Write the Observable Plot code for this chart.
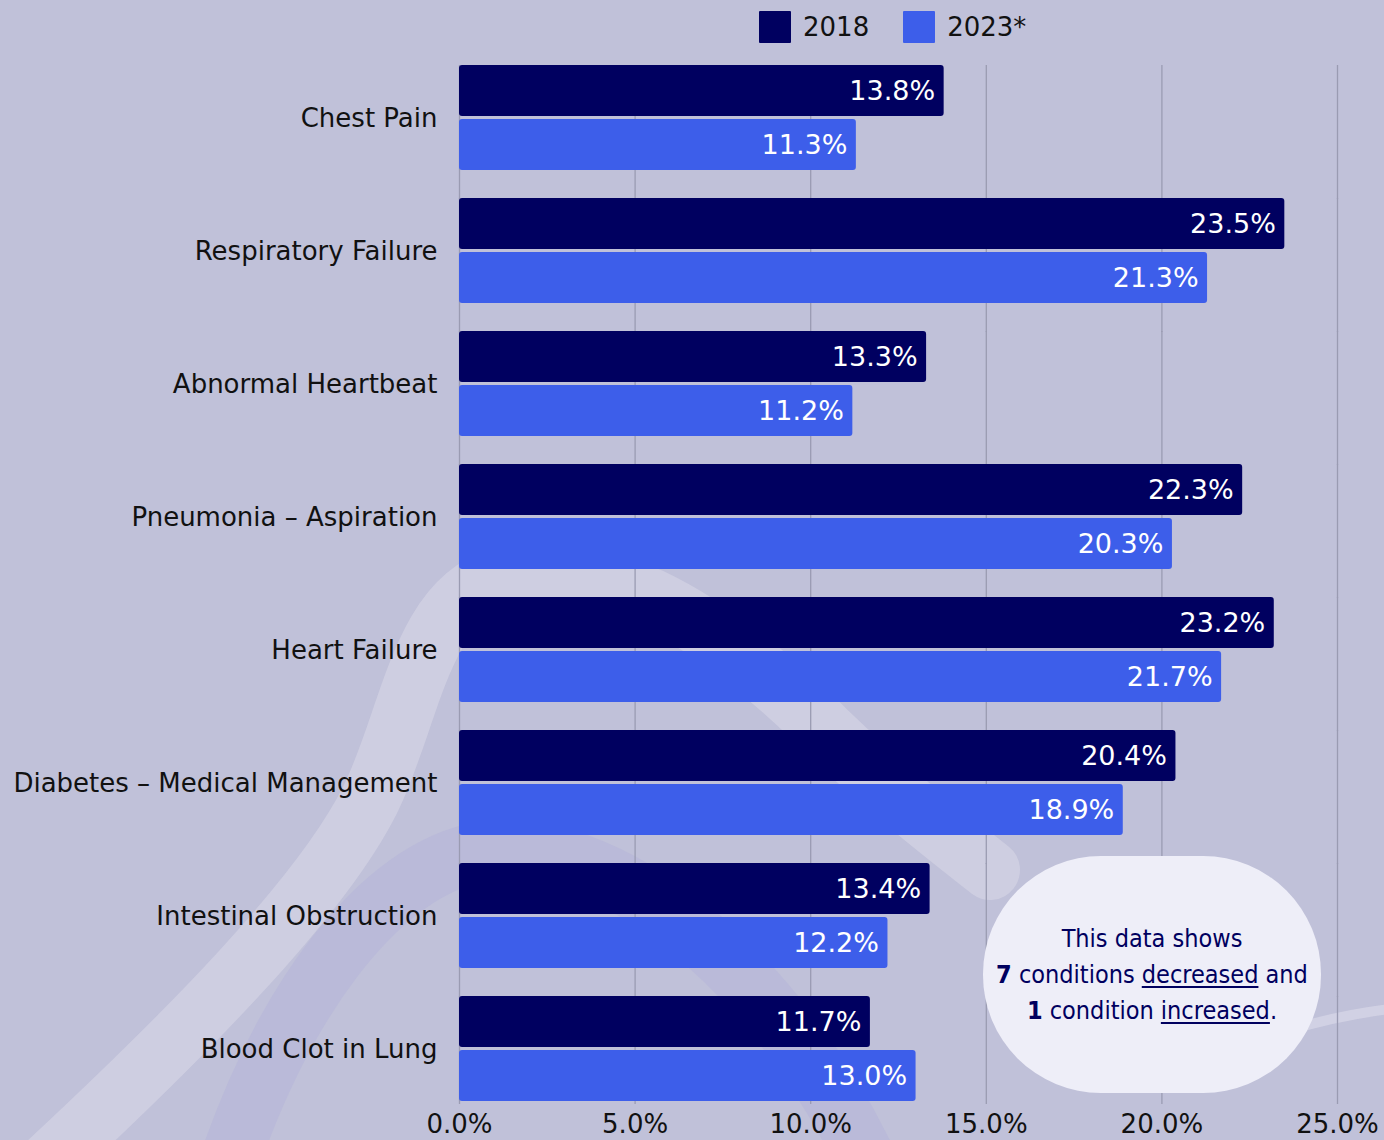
<!DOCTYPE html>
<html>
<head>
<meta charset="utf-8">
<script src="https://cdn.jsdelivr.net/npm/d3@7"></script>
<script src="https://cdn.jsdelivr.net/npm/@observablehq/plot@0.6"></script>
<style>
  html, body { margin: 0; padding: 0; background: #c0c1d9; }
  #wrap { position: relative; width: 1384px; height: 1140px; overflow: hidden; background: #c0c1d9; font-family: "DejaVu Sans", Verdana, sans-serif; }
  #bg { position: absolute; left: 0; top: 0; }
  #chart { position: absolute; left: 0; top: 0; }
  #legend { position: absolute; top: 11px; left: 759px; display: flex; align-items: center; font-size: 26px; color: #111; }
  .key { display: flex; align-items: center; margin-right: 34px; }
  .sw { width: 32px; height: 32px; margin-right: 12px; border-radius: 1px; }
  #callout { position: absolute; left: 983px; top: 856px; width: 338px; height: 237px; border-radius: 118px; background: #eeeef8;
    display: flex; align-items: center; justify-content: center; text-align: center; color: #00005f;
    font-family: "DejaVu Sans Condensed", "Liberation Sans", sans-serif; font-size: 25px; line-height: 36px; }
  #callout u { text-decoration-thickness: 2px; text-underline-offset: 3px; }
</style>
</head>
<body>
<div id="wrap">
  <svg id="bg" width="1384" height="1140">
    <g fill="none" stroke-linecap="round">
      <path d="M 220 1190 C 280 1000 380 870 480 852 C 600 832 780 960 880 1190" stroke="#b4b5d8" stroke-width="60" opacity="0.55"/>
      <path d="M 40 1170 C 180 1040 320 900 370 800 C 410 720 420 600 500 578 C 600 555 700 610 812 717 C 870 775 920 815 990 870" stroke="#d0d0e2" stroke-width="60" opacity="0.85"/>
      <path d="M 1290 1030 C 1330 1018 1360 1012 1400 1008" stroke="#d3d3e4" stroke-width="10" opacity="0.9"/>
    </g>
  </svg>
  <div id="chart"></div>
  <div id="legend"></div>
  <div id="callout"><div>This data shows<br><b>7</b> conditions <u>decreased</u> and<br><b>1</b> condition <u>increased</u>.</div></div>
</div>
<script>
const categories = [
  "Chest Pain",
  "Respiratory Failure",
  "Abnormal Heartbeat",
  "Pneumonia – Aspiration",
  "Heart Failure",
  "Diabetes – Medical Management",
  "Intestinal Obstruction",
  "Blood Clot in Lung"
];
const years = ["2018", "2023*"];
const values2018 = [13.8, 23.5, 13.3, 22.3, 23.2, 20.4, 13.4, 11.7];
const values2023 = [11.3, 21.3, 11.2, 20.3, 21.7, 18.9, 12.2, 13.0];
const xTicks = [0, 5, 10, 15, 20, 25];
const yearColors = ["#000060", "#3d5eea"];

const data = categories.flatMap((c, i) => [
  {category: c, year: years[0], value: values2018[i]},
  {category: c, year: years[1], value: values2023[i]}
]);
const pct = d => d.toFixed(1) + "%";

// grid rules per facet; all but the last facet extend down through the gap below them
const lastCat = categories[categories.length - 1];
const gridUpper = categories.filter(c => c !== lastCat).flatMap(c => xTicks.map(x => ({category: c, x})));
const gridLast = xTicks.map(x => ({category: lastCat, x}));

const chart = Plot.plot({
  width: 1384,
  height: 1140,
  marginLeft: 459,
  marginRight: 47,
  marginTop: 64,
  marginBottom: 37,
  style: {background: "transparent", fontFamily: "'DejaVu Sans', Verdana, sans-serif", color: "#111"},
  x: {domain: [0, 25]},
  y: {domain: years, paddingInner: 0.055, paddingOuter: 0, axis: null},
  fy: {domain: categories, paddingInner: 0.2026, paddingOuter: 0, label: null, axis: null},
  color: {domain: years, range: yearColors},
  marks: [
    Plot.ruleX(gridUpper, {x: "x", fy: "category", stroke: "#9a9bb2", strokeWidth: 1.3, insetBottom: -28}),
    Plot.ruleX(gridLast, {x: "x", fy: "category", stroke: "#9a9bb2", strokeWidth: 1.3, insetBottom: -2}),
    Plot.barX(data, {x: "value", y: "year", fy: "category", fill: "year", rx: 3}),
    Plot.text(data, {x: "value", y: "year", fy: "category", text: d => pct(d.value),
      textAnchor: "end", dx: -9, fill: "white", fontSize: 27}),
    Plot.axisX({ticks: xTicks, tickFormat: pct, tickSize: 0, tickPadding: 12, fontSize: 26, label: null}),
    Plot.axisFy({anchor: "left", tickSize: 0, tickPadding: 22, fontSize: 26, label: null})
  ]
});
document.getElementById("chart").appendChild(chart);

const legend = document.getElementById("legend");
years.forEach((y, i) => {
  const k = document.createElement("div");
  k.className = "key";
  k.innerHTML = `<span class="sw" style="background:${yearColors[i]}"></span><span>${y}</span>`;
  legend.appendChild(k);
});
</script>
</body>
</html>
